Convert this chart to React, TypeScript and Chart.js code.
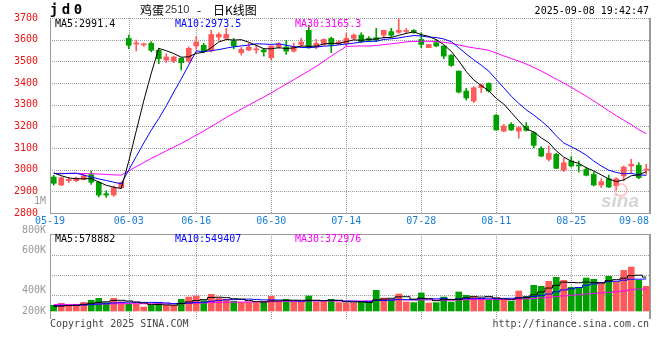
import React, { useEffect, useRef } from 'react';
import { Chart, registerables } from 'chart.js';

Chart.register(...registerables);

// ---------------- data ----------------
const dates = [
  '05-19','05-20','05-21','05-22','05-23','05-26','05-27','05-28','05-29','05-30',
  '06-03','06-04','06-05','06-06','06-09','06-10','06-11','06-12','06-13','06-16',
  '06-17','06-18','06-19','06-20','06-23','06-24','06-25','06-26','06-27','06-30',
  '07-01','07-02','07-03','07-04','07-07','07-08','07-09','07-10','07-11','07-14',
  '07-15','07-16','07-17','07-18','07-21','07-22','07-23','07-24','07-25','07-28',
  '07-29','07-30','07-31','08-01','08-04','08-05','08-06','08-07','08-08','08-11',
  '08-12','08-13','08-14','08-15','08-18','08-19','08-20','08-21','08-22','08-25',
  '08-26','08-27','08-28','08-29','09-01','09-02','09-03','09-04','09-05','09-08',
];

const openP = [
  2966,2929,2949,2949,2955,2977,2942,2889,2883,2917,
  3606,3580,3576,3583,3551,3506,3501,3514,3501,3571,
  3574,3548,3612,3606,3594,3540,3552,3553,3552,3517,
  3568,3566,3547,3578,3643,3566,3578,3606,3580,3583,
  3606,3621,3606,3609,3621,3637,3634,3638,3643,3601,
  3563,3586,3571,3527,3455,3363,3317,3378,3398,3251,
  3178,3209,3178,3201,3171,3098,3048,3071,2998,3040,
  3019,3001,2978,2929,2958,2925,2971,3017,3020,2998,
];
const highP = [
  2974,2966,2963,2966,2980,2994,2946,2903,2925,2943,
  3621,3598,3584,3591,3558,3535,3524,3517,3567,3614,
  3583,3643,3632,3652,3606,3563,3583,3575,3560,3571,
  3586,3597,3583,3606,3667,3601,3604,3612,3597,3629,
  3627,3632,3614,3652,3643,3652,3697,3652,3647,3632,
  3578,3601,3571,3532,3455,3375,3383,3394,3401,3255,
  3209,3217,3198,3217,3174,3106,3109,3075,3052,3060,
  3040,3012,2989,2958,2975,2963,3017,3048,3032,3025,
];
const lowP = [
  2929,2926,2940,2945,2952,2932,2874,2872,2877,2914,
  3558,3548,3569,3544,3489,3494,3494,3460,3494,3555,
  3540,3543,3594,3606,3558,3529,3549,3537,3524,3506,
  3560,3532,3543,3566,3560,3558,3575,3540,3577,3571,
  3601,3586,3591,3591,3606,3614,3629,3629,3629,3563,
  3563,3567,3512,3477,3354,3321,3309,3355,3358,3183,
  3174,3181,3145,3178,3101,3060,3040,3005,2991,3012,
  2989,2971,2925,2917,2917,2906,2948,2986,2958,2978,
];
const closeP = [
  2937,2963,2955,2961,2972,2942,2883,2883,2917,2940,
  3574,3583,3578,3551,3512,3520,3520,3494,3560,3589,
  3546,3624,3624,3624,3571,3555,3566,3555,3544,3571,
  3580,3547,3566,3589,3563,3583,3601,3578,3589,3606,
  3621,3591,3597,3598,3643,3620,3643,3640,3634,3578,
  3578,3571,3524,3481,3358,3331,3378,3391,3363,3183,
  3201,3183,3194,3181,3112,3063,3075,3006,3032,3017,
  3017,2974,2929,2945,2920,2958,3012,3025,2963,3000,
];

const ma5 = [
  2985,2972,2962,2958,2958,2959,2943,2928,2919,2913,
  3039,3179,3318,3445,3560,3549,3536,3519,3521,3537,
  3542,3563,3589,3601,3598,3600,3588,3574,3558,3558,
  3563,3559,3562,3571,3569,3570,3580,3583,3583,3591,
  3599,3597,3601,3603,3610,3610,3620,3629,3636,3623,
  3615,3600,3577,3546,3502,3453,3414,3388,3364,3329,
  3303,3264,3225,3188,3174,3147,3125,3087,3058,3039,
  3029,3009,2994,2976,2957,2945,2953,2972,2976,2991,
];
const ma10 = [
  2982,2981,2983,2984,2975,2966,2957,2950,2942,2935,
  2999,3061,3123,3182,3236,3294,3358,3419,3483,3548,
  3545,3549,3554,3561,3567,3571,3575,3581,3580,3578,
  3581,3574,3568,3564,3563,3566,3570,3572,3576,3580,
  3584,3589,3592,3593,3601,3604,3608,3614,3619,3617,
  3612,3610,3603,3591,3563,3534,3507,3482,3455,3416,
  3378,3339,3306,3276,3252,3225,3195,3156,3123,3106,
  3088,3067,3040,3017,2998,2987,2981,2983,2976,2974,
];
const ma30 = [
  2983,2983,2982,2982,2982,2981,2980,2978,2976,2975,
  2994,3014,3033,3052,3069,3087,3104,3121,3140,3160,
  3178,3199,3220,3241,3260,3279,3298,3317,3335,3354,
  3375,3395,3415,3436,3456,3477,3501,3524,3547,3569,
  3570,3571,3571,3573,3577,3581,3585,3590,3592,3592,
  3593,3591,3588,3583,3576,3568,3562,3557,3551,3538,
  3525,3513,3501,3487,3472,3455,3437,3418,3400,3380,
  3360,3339,3317,3295,3271,3249,3228,3208,3185,3166,
];

// volumes in thousands of lots
const volumeK = [
  97,131,97,97,148,182,217,143,217,154,
  125,120,68,97,143,97,97,200,239,257,
  177,285,222,200,165,148,148,143,165,251,
  154,200,154,154,257,154,154,200,143,137,
  137,165,143,353,222,200,291,154,143,308,
  137,143,239,154,325,268,239,200,200,211,
  182,165,342,251,439,422,507,576,524,405,
  405,564,542,485,593,496,695,752,524,422,
];
const volMa5K = [
  80,85,95,100,114,131,148,157,181,183,
  171,152,137,113,111,105,100,127,155,178,
  194,232,236,228,210,204,177,161,154,171,
  172,183,185,183,184,184,175,184,182,158,
  154,156,145,187,204,217,242,244,202,219,
  207,177,194,196,200,226,245,237,246,224,
  206,192,220,230,276,324,392,439,494,487,
  483,495,488,480,518,536,562,604,612,579,
];
const volMa10K = [
  90,92,93,95,100,108,118,125,138,148,
  151,150,147,147,146,138,126,131,134,144,
  149,166,181,191,193,198,203,198,190,190,
  188,179,172,167,177,177,178,183,181,170,
  168,164,163,183,180,184,198,193,193,210,
  210,208,218,198,208,215,210,214,220,210,
  215,217,227,237,248,264,290,328,360,380,
  402,442,462,485,501,508,527,544,544,546,
];
const volMa30K = [
  112,113,112,112,113,115,119,120,123,125,
  125,125,124,123,124,124,123,126,130,135,
  137,143,147,150,151,153,154,155,157,161,
  163,165,167,169,173,172,170,171,169,168,
  169,170,173,181,184,187,194,192,189,191,
  189,185,185,184,189,193,196,198,199,198,
  199,198,204,207,213,222,234,246,259,268,
  277,290,303,308,320,330,343,363,376,373,
];

const priceTicks = [2800, 2900, 3000, 3100, 3200, 3300, 3400, 3500, 3600, 3700];
const dateTicks = ['05-19', '06-03', '06-16', '06-30', '07-14', '07-28', '08-11', '08-25', '09-08'];
const volGridK = [274, 616, 958];
const volTickLabels = ['1M', '800K', '600K', '400K', '200K'];
const priceLegend = ['MA5:2991.4', 'MA10:2973.5', 'MA30:3165.3'];
const volLegend = ['MA5:578882', 'MA10:549407', 'MA30:372976'];
const symbolText = 'jd0';
const titleParts = ['鸡蛋', '2510', '-', '日K线图'];
const timeText = '2025-09-08 19:42:47';
const copyrightText = 'Copyright 2025 SINA.COM';
const urlText = 'http://finance.sina.com.cn';

// ---------------- styles ----------------
const RED = '#ff5a5a';
const GREEN = '#00a000';
const MA_COLORS = ['#000000', '#0000ff', '#ff00ff'];
const GRID = '#9a9a9a';
const BORDER = '#9a9a9a';
const MONO = '"DejaVu Sans Mono", monospace';
const LEGEND_X = [55, 175, 295];
const VOL_LABEL_Y = [201, 230, 250, 290, 311];
const VOL_TOP = 190;

const candleColors = closeP.map((c, i) => (c >= openP[i] ? RED : GREEN));

function line(ctx: CanvasRenderingContext2D, x1: number, y1: number, x2: number, y2: number) {
  ctx.beginPath();
  ctx.moveTo(x1, y1);
  ctx.lineTo(x2, y2);
  ctx.stroke();
}

// dotted line drawn as 1px squares, every other pixel
function dotted(ctx: CanvasRenderingContext2D, x1: number, y1: number, x2: number, y2: number) {
  ctx.fillStyle = GRID;
  if (Math.round(y1) === Math.round(y2)) {
    const y = Math.round(y1);
    for (let x = Math.round(x1); x <= x2; x += 2) ctx.fillRect(x, y, 1, 1);
  } else {
    const x = Math.round(x1);
    for (let y = Math.round(y1); y <= y2; y += 2) ctx.fillRect(x, y, 1, 1);
  }
}

function drawVerticalGrid(chart: any) {
  const { ctx, chartArea: a, scales } = chart;
  dateTicks.forEach((d, k) => {
    if (k === 0 || k === dateTicks.length - 1) return;
    const px = scales.x.getPixelForValue(dates.indexOf(d));
    dotted(ctx, px, a.top, px, a.bottom);
  });
}

const mainFrame = {
  id: 'mainFrame',
  beforeDatasetsDraw(chart: any) {
    const { ctx, chartArea: a, scales } = chart;
    ctx.save();
    priceTicks.forEach((v, k) => {
      if (k === 0) return;
      const py = Math.max(Math.min(scales.y.getPixelForValue(v), a.bottom - 1), a.top);
      dotted(ctx, a.left, py, a.right, py);
    });
    drawVerticalGrid(chart);
    ctx.strokeStyle = BORDER;
    ctx.lineWidth = 1;
    line(ctx, a.left + 0.5, a.top, a.left + 0.5, a.bottom + 1);
    line(ctx, a.left, a.bottom + 0.5, a.right, a.bottom + 0.5);
    ctx.lineWidth = 2;
    line(ctx, a.right, a.top, a.right, a.bottom + 1);
    ctx.restore();
  },
  afterDraw(chart: any) {
    const { ctx, chartArea: a, scales } = chart;
    ctx.save();
    ctx.textBaseline = 'middle';
    // symbol
    ctx.fillStyle = '#000';
    ctx.font = `bold 14px ${MONO}`;
    ctx.textAlign = 'center';
    symbolText.split('').forEach((ch, k) => ctx.fillText(ch, 54 + k * 12, 10));
    // title
    ctx.textAlign = 'left';
    ctx.font = '12px "Noto Sans CJK SC"';
    ctx.fillText(titleParts[0], 140, 10);
    ctx.fillStyle = '#333';
    ctx.font = '11px "Liberation Sans"';
    ctx.fillText(titleParts[1], 165, 10);
    ctx.fillStyle = '#000';
    ctx.font = '12px "Noto Sans CJK SC"';
    ctx.fillText(titleParts[2], 197, 10);
    ctx.fillText(titleParts[3], 213, 10);
    // timestamp
    ctx.font = `10px ${MONO}`;
    ctx.textAlign = 'right';
    ctx.fillText(timeText, 649, 11);
    // legend
    ctx.textAlign = 'left';
    priceLegend.forEach((t, k) => {
      ctx.fillStyle = MA_COLORS[k];
      ctx.fillText(t, LEGEND_X[k], 24);
    });
    // date labels
    ctx.fillStyle = '#1a7fd4';
    dateTicks.forEach((d, k) => {
      const px = scales.x.getPixelForValue(dates.indexOf(d));
      if (k === 0) {
        ctx.textAlign = 'center';
        ctx.fillText(d, a.left, 221.5);
      } else if (k === dateTicks.length - 1) {
        ctx.textAlign = 'right';
        ctx.fillText(d, a.right - 1, 221.5);
      } else {
        ctx.textAlign = 'center';
        ctx.fillText(d, px, 221.5);
      }
    });
    // watermark
    ctx.textAlign = 'left';
    ctx.fillStyle = 'rgba(195,195,195,0.7)';
    ctx.font = 'italic bold 19px "Liberation Sans"';
    ctx.fillText('sina', 601, 202);
    ctx.strokeStyle = 'rgba(255,150,150,0.5)';
    ctx.lineWidth = 2;
    ctx.beginPath();
    ctx.arc(621, 190, 6, 0, Math.PI * 2);
    ctx.stroke();
    ctx.restore();
  },
};

const volFrame = {
  id: 'volFrame',
  beforeDatasetsDraw(chart: any) {
    const { ctx, chartArea: a, scales } = chart;
    ctx.save();
    volGridK.forEach((v) => {
      const py = scales.y.getPixelForValue(v);
      dotted(ctx, a.left, py, a.right, py);
    });
    drawVerticalGrid(chart);
    ctx.strokeStyle = BORDER;
    ctx.lineWidth = 1;
    line(ctx, a.left, a.top + 0.5, a.right, a.top + 0.5);
    line(ctx, a.left + 0.5, a.top, a.left + 0.5, a.bottom);
    ctx.lineWidth = 2;
    line(ctx, a.right, a.top, a.right, a.bottom);
    ctx.restore();
  },
  afterDraw(chart: any) {
    const { ctx } = chart;
    ctx.save();
    ctx.textBaseline = 'middle';
    ctx.font = `10px ${MONO}`;
    ctx.textAlign = 'right';
    ctx.fillStyle = '#999';
    volTickLabels.forEach((t, k) => ctx.fillText(t, 46, VOL_LABEL_Y[k] - VOL_TOP));
    ctx.textAlign = 'left';
    volLegend.forEach((t, k) => {
      ctx.fillStyle = MA_COLORS[k];
      ctx.fillText(t, LEGEND_X[k], 239 - VOL_TOP);
    });
    ctx.fillStyle = '#444';
    ctx.fillText(copyrightText, 50, 324 - VOL_TOP);
    ctx.textAlign = 'right';
    ctx.fillText(urlText, 649, 324 - VOL_TOP);
    ctx.restore();
  },
};

function lineDs(data: number[], k: number, stepped: any = false) {
  return {
    type: 'line' as const,
    data,
    borderColor: MA_COLORS[k],
    backgroundColor: MA_COLORS[k],
    borderWidth: 1,
    pointRadius: 0,
    tension: 0,
    stepped,
    order: k,
  };
}

export default function App() {
  const mainRef = useRef<HTMLCanvasElement>(null);
  const volRef = useRef<HTMLCanvasElement>(null);

  useEffect(() => {
    const main = new Chart(mainRef.current as HTMLCanvasElement, {
      type: 'bar',
      data: {
        labels: dates,
        datasets: [
          lineDs(ma5, 0),
          lineDs(ma10, 1),
          lineDs(ma30, 2),
          {
            type: 'bar',
            data: openP.map((o, i) => [Math.min(o, closeP[i]), Math.max(o, closeP[i])]),
            backgroundColor: candleColors,
            barThickness: 5,
            minBarLength: 1,
            grouped: false,
            order: 3,
          },
          {
            type: 'bar',
            data: lowP.map((l, i) => [l, highP[i]]),
            backgroundColor: candleColors,
            barThickness: 1,
            grouped: false,
            order: 4,
          },
        ] as any,
      },
      options: {
        animation: false,
        responsive: false,
        devicePixelRatio: 1,
        events: [],
        layout: { padding: { top: 18, bottom: 17, left: 0, right: 10 } },
        plugins: { legend: { display: false }, tooltip: { enabled: false } },
        scales: {
          x: { display: false, offset: true },
          y: {
            min: 2800,
            max: 3700,
            afterFit: (s: any) => { s.width = 50; },
            afterBuildTicks: (s: any) => { s.ticks = priceTicks.map((v) => ({ value: v })); },
            grid: { display: false },
            border: { display: false },
            ticks: {
              color: '#e81515',
              font: { family: 'DejaVu Sans Mono', size: 10 },
              padding: 4,
              callback: (v: any) => String(v),
            },
          },
        },
      } as any,
      plugins: [mainFrame],
    });

    const vol = new Chart(volRef.current as HTMLCanvasElement, {
      type: 'bar',
      data: {
        labels: dates,
        datasets: [
          lineDs(volMa5K, 0, 'middle'),
          lineDs(volMa10K, 1, 'middle'),
          lineDs(volMa30K, 2, 'middle'),
          {
            type: 'bar',
            data: volumeK,
            backgroundColor: candleColors,
            barThickness: 6,
            grouped: false,
            order: 3,
          },
        ] as any,
      },
      options: {
        animation: false,
        responsive: false,
        devicePixelRatio: 1,
        events: [],
        layout: { padding: { top: 44, bottom: 41, left: 0, right: 10 } },
        plugins: { legend: { display: false }, tooltip: { enabled: false } },
        scales: {
          x: { display: false, offset: true },
          y: {
            min: -137,
            max: 1317,
            afterFit: (s: any) => { s.width = 50; },
            grid: { display: false },
            border: { display: false },
            ticks: { display: false },
          },
        },
      } as any,
      plugins: [volFrame],
    });

    return () => {
      main.destroy();
      vol.destroy();
    };
  }, []);

  return (
    <div style={{ position: 'absolute', left: 0, top: 0, width: 660, height: 360, background: '#fff' }}>
      <canvas ref={mainRef} width={660} height={230} style={{ position: 'absolute', left: 0, top: 0, width: 660, height: 230 }} />
      <canvas ref={volRef} width={660} height={170} style={{ position: 'absolute', left: 0, top: VOL_TOP, width: 660, height: 170 }} />
    </div>
  );
}
